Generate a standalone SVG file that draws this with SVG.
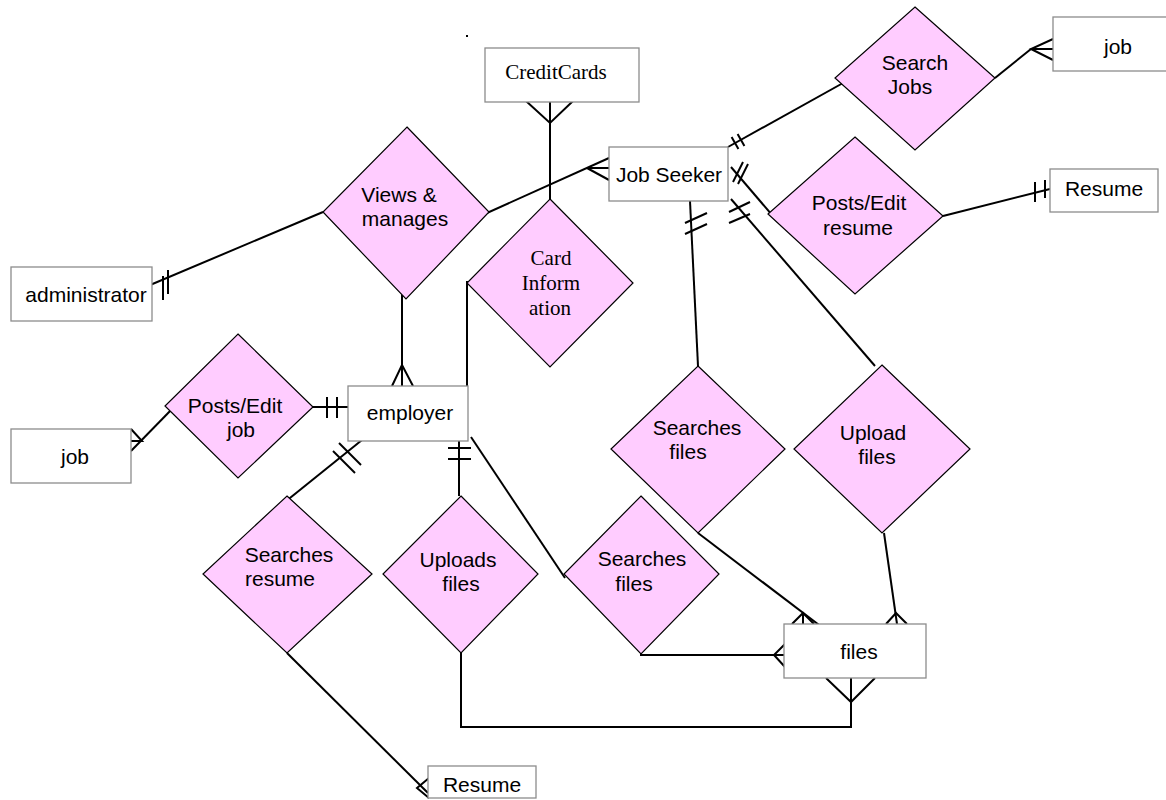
<svg xmlns="http://www.w3.org/2000/svg" width="1166" height="800" viewBox="0 0 1166 800">
  <style>
    .ent rect { fill: #ffffff; stroke: #8c8c8c; stroke-width: 1.3; }
    .rel polygon { fill: #ffccff; stroke: #000000; stroke-width: 1.2; }
    .conn line, .conn polyline { stroke: #000000; stroke-width: 2; fill: none; }
    text { font-family: "Liberation Sans", Arial, sans-serif; font-size: 21px; fill: #000000; text-anchor: middle; }
    text.serif { font-family: "Liberation Serif", "Times New Roman", serif; }
  </style>
  <rect width="1166" height="800" fill="#ffffff"/>

  <!-- connectors -->
  <g id="connectors" class="conn">
    <!-- CreditCards - Card Information -->
    <line x1="550" y1="102" x2="550" y2="199"/>
    <polyline points="526,101 550,123 573,101"/>
    <!-- Views & manages - Job Seeker -->
    <line x1="467" y1="222" x2="609" y2="158"/>
    <line x1="587" y1="168" x2="609" y2="168"/>
    <line x1="587" y1="168" x2="609" y2="180"/>
    <!-- Views & manages - administrator -->
    <line x1="323" y1="212" x2="143" y2="288"/>
    <line x1="163" y1="276" x2="163" y2="300"/>
    <line x1="168" y1="270" x2="168" y2="294"/>
    <!-- Views & manages - employer -->
    <line x1="402" y1="278" x2="402" y2="386"/>
    <polyline points="392,386 402,365 413,386"/>
    <!-- Card Information - employer -->
    <line x1="467" y1="281" x2="467" y2="400"/>
    <!-- Posts/Edit job - employer -->
    <line x1="282" y1="407" x2="348" y2="407"/>
    <line x1="327" y1="397" x2="327" y2="418"/>
    <line x1="337" y1="397" x2="337" y2="418"/>
    <!-- Posts/Edit job - job -->
    <line x1="173" y1="408" x2="131" y2="451"/>
    <polyline points="131,429 142,441 131,441"/>
    <!-- employer - Searches resume -->
    <line x1="362" y1="440" x2="275" y2="510"/>
    <line x1="333" y1="451" x2="355" y2="473"/>
    <line x1="339" y1="443" x2="361" y2="465"/>
    <!-- Searches resume - Resume -->
    <line x1="287" y1="653" x2="428" y2="793"/>
    <polyline points="429,778 417,788 429,798"/>
    <!-- employer - Uploads files -->
    <line x1="459" y1="441" x2="459" y2="496"/>
    <line x1="448" y1="448" x2="471" y2="448"/>
    <line x1="448" y1="459" x2="471" y2="459"/>
    <!-- Uploads files - files -->
    <polyline points="461,653 461,727 851,727 851,678"/>
    <polyline points="826,678 851,702 875,678"/>
    <!-- employer - Searches files (lower) -->
    <line x1="471" y1="437" x2="565" y2="578"/>
    <!-- Searches files (lower) - files -->
    <line x1="640" y1="655" x2="785" y2="655"/>
    <polyline points="785,644 774,655 785,667"/>
    <!-- Job Seeker - Searches files (upper) -->
    <line x1="690" y1="201" x2="698" y2="366"/>
    <line x1="685" y1="223" x2="707" y2="213"/>
    <line x1="685" y1="234" x2="707" y2="224"/>
    <!-- Searches files (upper) - files -->
    <line x1="698" y1="533" x2="827" y2="631"/>
    <polyline points="792,624 803,613 814,624"/>
    <line x1="803" y1="613" x2="803" y2="624"/>
    <!-- Job Seeker - Upload files -->
    <line x1="731" y1="199" x2="875" y2="366"/>
    <line x1="729" y1="212" x2="750" y2="202"/>
    <line x1="729" y1="223" x2="750" y2="214"/>
    <!-- Upload files - files -->
    <line x1="884" y1="533" x2="898" y2="631"/>
    <polyline points="886,624 896,613 907,624"/>
    <!-- Job Seeker - Posts/Edit resume -->
    <line x1="731" y1="167" x2="778" y2="222"/>
    <line x1="733" y1="182" x2="743" y2="162"/>
    <line x1="738" y1="184" x2="748" y2="164"/>
    <!-- Job Seeker - Search Jobs -->
    <line x1="728" y1="147" x2="852" y2="78"/>
    <line x1="731.6" y1="136.9" x2="738.4" y2="149.1"/>
    <line x1="737.6" y1="133.9" x2="744.4" y2="146.1"/>
    <!-- Search Jobs - job -->
    <line x1="995" y1="78" x2="1031" y2="49"/>
    <polyline points="1053,39 1031,49 1053,60"/>
    <line x1="1031" y1="49" x2="1053" y2="49"/>
    <!-- Posts/Edit resume - Resume -->
    <line x1="943" y1="216" x2="1050" y2="189"/>
    <line x1="1035" y1="182" x2="1035" y2="202"/>
    <line x1="1045" y1="180" x2="1045" y2="198"/>
  </g>

  <!-- entities -->
  <g id="creditcards" class="ent">
    <rect x="485" y="48" width="154" height="54"/>
    <text class="serif" x="556" y="79">CreditCards</text>
  </g>
  <g id="jobseeker" class="ent">
    <rect x="609" y="147" width="119" height="54"/>
    <text x="669" y="182">Job Seeker</text>
  </g>
  <g id="job-top" class="ent">
    <rect x="1053" y="17" width="120" height="54"/>
    <text x="1118" y="54">job</text>
  </g>
  <g id="resume-right" class="ent">
    <rect x="1050" y="169" width="108" height="43"/>
    <text x="1104" y="196">Resume</text>
  </g>
  <g id="administrator" class="ent">
    <rect x="11" y="267" width="141" height="54"/>
    <text x="86" y="302">administrator</text>
  </g>
  <g id="employer" class="ent">
    <rect x="348" y="386" width="120" height="55"/>
    <text x="410" y="420">employer</text>
  </g>
  <g id="job-left" class="ent">
    <rect x="11" y="429" width="120" height="54"/>
    <text x="75" y="464">job</text>
  </g>
  <g id="files" class="ent">
    <rect x="784" y="624" width="142" height="54"/>
    <text x="859" y="659">files</text>
  </g>
  <g id="resume-bottom" class="ent">
    <rect x="428" y="766" width="108" height="32"/>
    <text x="482" y="792">Resume</text>
  </g>

  <!-- relationships -->
  <g id="views-manages" class="rel">
    <polygon points="407,127 489,212 406,299 323,212"/>
    <text x="399" y="202">Views &amp;</text>
    <text x="405" y="226">manages</text>
  </g>
  <g id="card-information" class="rel">
    <polygon points="550,199 633,283 550,367 467,283"/>
    <text class="serif" x="551" y="265">Card</text>
    <text class="serif" x="551" y="290">Inform</text>
    <text class="serif" x="550" y="315">ation</text>
  </g>
  <g id="search-jobs" class="rel">
    <polygon points="915,7 995,78 915,150 835,78"/>
    <text x="915" y="70">Search</text>
    <text x="910" y="94">Jobs</text>
  </g>
  <g id="posts-edit-resume" class="rel">
    <polygon points="855,137 943,216 855,294 768,214"/>
    <text x="859" y="210">Posts/Edit</text>
    <text x="858" y="235">resume</text>
  </g>
  <g id="posts-edit-job" class="rel">
    <polygon points="238,334 313,407 238,478 165,406"/>
    <text x="235" y="413">Posts/Edit</text>
    <text x="241" y="437">job</text>
  </g>
  <g id="searches-resume" class="rel">
    <polygon points="287,496 372,574 287,653 203,574"/>
    <text x="289" y="562">Searches</text>
    <text x="280" y="586">resume</text>
  </g>
  <g id="uploads-files" class="rel">
    <polygon points="461,496 538,574 461,653 383,574"/>
    <text x="458" y="567">Uploads</text>
    <text x="461" y="591">files</text>
  </g>
  <g id="searches-files-lower" class="rel">
    <polygon points="641,496 719,574 641,654 564,574"/>
    <text x="642" y="566">Searches</text>
    <text x="634" y="591">files</text>
  </g>
  <g id="searches-files-upper" class="rel">
    <polygon points="698,366 785,449 698,533 611,449"/>
    <text x="697" y="435">Searches</text>
    <text x="688" y="459">files</text>
  </g>
  <g id="upload-files" class="rel">
    <polygon points="882,365 970,449 882,533 794,449"/>
    <text x="873" y="440">Upload</text>
    <text x="877" y="464">files</text>
  </g>

  <!-- stray mark -->
  <rect x="466" y="35" width="2" height="2" fill="#000000"/>
</svg>
